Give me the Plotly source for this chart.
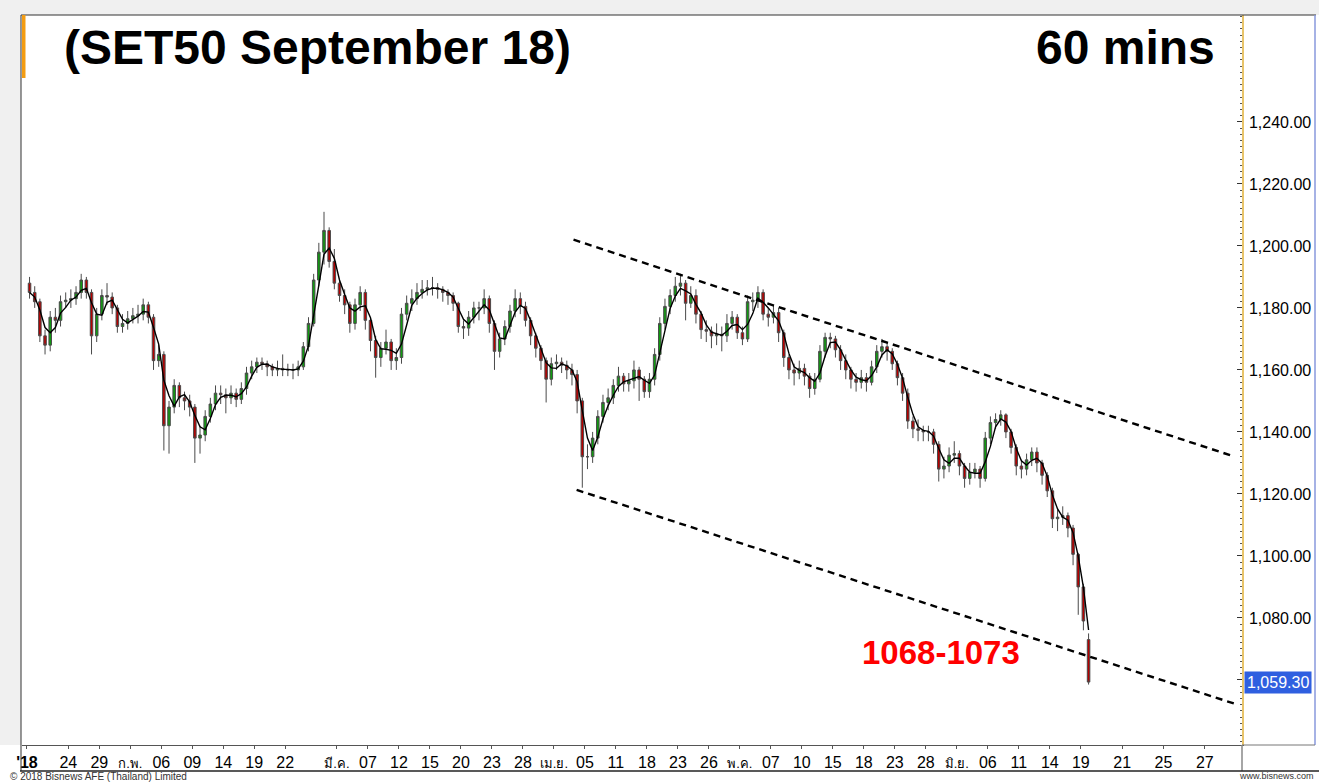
import plotly.graph_objects as go
import pandas as pd

# ---------------- data (2 candles per trading day) ----------------
opens = [1188, 1185, 1182, 1171, 1168, 1177, 1176, 1182, 1182.5, 1183,
         1185, 1189, 1185, 1171, 1178, 1184, 1183.5, 1180, 1174, 1175,
         1176.5, 1177.5, 1178, 1181, 1177, 1163, 1165, 1142, 1148, 1155,
         1151, 1150, 1148, 1138, 1139, 1145, 1149, 1152.5, 1152, 1151,
         1152.5, 1150.5, 1154, 1159, 1161, 1162.5, 1162, 1161, 1160, 1160.5,
         1160, 1160, 1160, 1161, 1167.5, 1175, 1189, 1198, 1205, 1195,
         1188, 1184, 1181, 1175, 1181, 1185, 1176, 1169.5, 1164, 1167,
         1169, 1163, 1164, 1178, 1181.5, 1183, 1185, 1186, 1186.5, 1186.5,
         1186, 1185, 1184, 1181.5, 1174, 1173.5, 1177, 1180, 1180, 1183,
         1175, 1166, 1170, 1174, 1179, 1183, 1180.5, 1176, 1171, 1167,
         1163, 1157, 1162, 1162.5, 1161.5, 1160, 1158.5, 1150, 1132, 1132,
         1138, 1145, 1149.5, 1151, 1155, 1158, 1155.5, 1156.5, 1160, 1157,
         1153, 1157, 1165, 1175, 1180.5, 1184, 1187, 1188, 1181.5, 1184,
         1178, 1173, 1172.5, 1171, 1171.5, 1171, 1175, 1177, 1172, 1170,
         1182, 1182.5, 1185, 1178, 1177, 1178.5, 1172, 1164, 1160, 1159,
         1160.5, 1158, 1154, 1157, 1166, 1170.5, 1170, 1166.5, 1163, 1160,
         1157, 1156, 1157.5, 1156, 1161, 1166, 1167.5, 1166, 1162, 1157.5,
         1152.5, 1143.5, 1141, 1140.5, 1140, 1140, 1136, 1128, 1129, 1132.5,
         1133, 1129, 1125, 1127, 1128, 1125, 1138, 1143, 1144, 1145.5,
         1140, 1135, 1129, 1128, 1131, 1133.5, 1130, 1126, 1121, 1112,
         1112.5, 1113, 1109, 1100.5, 1090, 1073]

highs = [1190, 1187, 1183, 1173, 1179, 1180, 1184, 1185, 1186, 1187,
         1191, 1190, 1186, 1180, 1186, 1188, 1185, 1181, 1178, 1179,
         1180, 1181, 1183, 1182, 1178, 1168, 1166, 1150, 1157, 1156,
         1153, 1152, 1149, 1142, 1147, 1151, 1155, 1155, 1154, 1155,
         1154, 1156, 1161, 1163, 1164, 1164, 1163, 1162, 1163, 1165,
         1162, 1162, 1163, 1169, 1177, 1191, 1201, 1211, 1206, 1199,
         1189, 1186, 1182, 1183, 1187, 1186, 1177, 1171, 1169, 1173,
         1170, 1167, 1180, 1184, 1186, 1188, 1189, 1189, 1190, 1188,
         1187, 1186, 1185, 1182, 1176, 1179, 1182, 1182, 1186, 1184,
         1176, 1172, 1176, 1181, 1186, 1185, 1182, 1177, 1172, 1168,
         1164, 1164, 1165, 1164, 1163, 1162, 1160, 1151, 1136, 1140,
         1147, 1152, 1154, 1157, 1161, 1159, 1159, 1163, 1161, 1158,
         1159, 1167, 1177, 1183, 1186, 1190, 1191, 1189, 1187, 1186,
         1179, 1176, 1174, 1175, 1174, 1178, 1179, 1178, 1174, 1184,
         1185, 1187, 1186, 1180, 1181, 1180, 1173, 1165, 1162, 1163,
         1162, 1159, 1159, 1168, 1172, 1172, 1171, 1168, 1165, 1161,
         1159, 1160, 1159, 1163, 1168, 1170, 1169, 1167, 1163, 1159,
         1154, 1145, 1144, 1142, 1142, 1141, 1137, 1132, 1135, 1137,
         1134, 1130, 1130, 1130, 1129, 1140, 1145, 1146, 1147, 1146,
         1141, 1136, 1131, 1133, 1135, 1135, 1131, 1127, 1122, 1115,
         1116, 1114, 1110, 1101, 1091, 1075]

lows = [1183, 1180, 1169, 1165, 1166, 1172, 1174, 1180, 1180, 1181,
        1183, 1183, 1165, 1169, 1176, 1181, 1178, 1172, 1172, 1173,
        1175, 1175, 1176, 1175, 1160, 1161, 1134, 1133, 1146, 1148,
        1147, 1145, 1130, 1133, 1137, 1143, 1147, 1149, 1146, 1149,
        1148, 1149, 1152, 1157, 1159, 1160, 1158, 1158, 1158, 1158,
        1158, 1157, 1158, 1160, 1166, 1174, 1187, 1194, 1193, 1186,
        1182, 1178, 1172, 1173, 1179, 1173, 1166, 1157.5, 1161, 1165,
        1160, 1160, 1162, 1176, 1179, 1181, 1183, 1184, 1184, 1183,
        1182, 1181, 1179, 1172, 1170, 1171, 1175, 1176, 1178, 1172,
        1160, 1164, 1168, 1172, 1177, 1178, 1174, 1168, 1164, 1160,
        1149.5, 1155, 1160, 1159, 1157, 1155, 1146, 1122, 1128, 1130,
        1136, 1143, 1147, 1149, 1153, 1153, 1153, 1154, 1150, 1151,
        1151, 1155, 1163, 1173, 1178, 1182, 1184, 1176, 1180, 1175,
        1170, 1169, 1167, 1168, 1166, 1169, 1173, 1170, 1168, 1169,
        1179, 1180, 1176, 1174, 1175, 1169, 1161, 1157, 1155, 1157,
        1155, 1151, 1152, 1156, 1164, 1167, 1164, 1160, 1157, 1154,
        1153, 1154, 1153, 1155, 1159, 1164, 1163, 1160, 1155, 1150,
        1141, 1138, 1137, 1137, 1137, 1133, 1124, 1125, 1127, 1130,
        1126, 1122, 1123, 1125, 1122, 1124, 1136, 1141, 1142, 1138,
        1133, 1126, 1125, 1126, 1129, 1127, 1123, 1119, 1109, 1108,
        1110, 1106, 1097, 1081, 1076, 1058.5]

closes = [1185, 1182, 1171, 1168, 1177, 1176, 1182, 1182.5, 1183, 1185,
          1189, 1185, 1171, 1178, 1184, 1183.5, 1180, 1174, 1175, 1176.5,
          1177.5, 1178, 1181, 1177, 1163, 1165, 1142, 1148, 1155, 1151,
          1150, 1148, 1138, 1139, 1145, 1149, 1152.5, 1152, 1151, 1152.5,
          1150.5, 1154, 1159, 1161, 1162.5, 1162, 1161, 1160, 1160.5, 1160,
          1160, 1160, 1161, 1167.5, 1175, 1189, 1198, 1205, 1195, 1188,
          1184, 1181, 1175, 1181, 1185, 1176, 1169.5, 1164, 1167, 1169,
          1163, 1164, 1178, 1181.5, 1183, 1185, 1186, 1186.5, 1186.5, 1186,
          1185, 1184, 1181.5, 1174, 1173.5, 1177, 1180, 1180, 1183, 1175,
          1166, 1170, 1174, 1179, 1183, 1180.5, 1176, 1171, 1167, 1163,
          1157, 1162, 1162.5, 1161.5, 1160, 1158.5, 1150, 1132, 1132, 1138,
          1145, 1149.5, 1151, 1155, 1158, 1155.5, 1156.5, 1160, 1157, 1153,
          1157, 1165, 1175, 1180.5, 1184, 1187, 1188, 1181.5, 1184, 1178,
          1173, 1172.5, 1171, 1171.5, 1171, 1175, 1177, 1172, 1170, 1182,
          1182.5, 1185, 1178, 1177, 1178.5, 1172, 1164, 1160, 1159, 1160.5,
          1158, 1154, 1157, 1166, 1170.5, 1170, 1166.5, 1163, 1160, 1157,
          1156, 1157.5, 1156, 1161, 1166, 1167.5, 1166, 1162, 1157.5, 1152.5,
          1143.5, 1141, 1140.5, 1140, 1140, 1136, 1128, 1129, 1132.5, 1133,
          1129, 1125, 1127, 1128, 1125, 1138, 1143, 1144, 1145.5, 1140,
          1135, 1129, 1128, 1131, 1133.5, 1130, 1126, 1121, 1112, 1112.5,
          1113, 1109, 1100.5, 1090, 1079, 1059.3]

# x-axis: trading-day index of each label
tick_days = [0, 4, 7, 10, 13, 16, 19, 22, 25, 30, 33, 36, 39, 42, 45, 48, 51, 54,
             57, 60, 63, 66, 69, 72, 75, 78, 81, 84, 87, 90, 93, 96, 99, 102,
             106, 110, 114]
tick_labels = ["'18", "24", "29", "ก.พ.", "06", "09", "14", "19", "22", "มี.ค.",
               "07", "12", "15", "20", "23", "28", "เม.ย.", "05", "11", "18",
               "23", "26", "พ.ค.", "07", "10", "15", "18", "23", "28", "มิ.ย.",
               "06", "11", "14", "19", "21", "25", "27"]

y_ticks = [1060, 1080, 1100, 1120, 1140, 1160, 1180, 1200, 1220, 1240]

# channel lines (day index, price)
upper_x = [52.9, 116.9]
upper_y = [1202.0, 1132.0]
lower_x = [53.2, 116.9]
lower_y = [1121.3, 1052.3]

last_price = 1059.3
target_text = "1068-1073"
target_pos = (88.5, 1068.7)

# ---------------- figure ----------------
n = len(closes)
xs = [i // 2 + 0.25 + 0.5 * (i % 2) for i in range(n)]
ma = pd.Series(closes).rolling(3, min_periods=1).mean()


def fmt_tick(t):
    if t.startswith("'"):
        return "<b>" + t + "</b>"
    if not t.isdigit():
        return '<span style="font-size:13px">' + t + "</span>"
    return t


ticktext = [fmt_tick(t) for t in tick_labels]

W, H = 1319, 782
L, R, T, B = 22, 1242, 15, 745


def px(x):
    return (x - L) / (R - L)


def py(y):
    return (B - y) / (B - T)


fig = go.Figure()
fig.add_trace(go.Candlestick(
    x=xs, open=opens, high=highs, low=lows, close=closes,
    increasing=dict(fillcolor="#109a10", line=dict(color="#4a4a4a", width=1)),
    decreasing=dict(fillcolor="#b40000", line=dict(color="#4a4a4a", width=1)),
    whiskerwidth=0, showlegend=False, hoverinfo="skip",
))
fig.add_trace(go.Scatter(x=xs, y=ma, mode="lines",
                         line=dict(color="black", width=1.4),
                         showlegend=False, hoverinfo="skip"))
for lx, ly in ((upper_x, upper_y), (lower_x, lower_y)):
    fig.add_trace(go.Scatter(x=lx, y=ly, mode="lines",
                             line=dict(color="black", width=2.4, dash="7px,5px"),
                             showlegend=False, hoverinfo="skip"))

shapes = [
    # grey outer frame
    dict(type="rect", xref="paper", yref="paper", x0=px(0), x1=px(W), y0=py(T), y1=py(0),
         fillcolor="#f0f0f0", line=dict(width=0), layer="above"),
    dict(type="rect", xref="paper", yref="paper", x0=px(0), x1=px(21), y0=py(B), y1=py(T),
         fillcolor="#f0f0f0", line=dict(width=0), layer="above"),
    # chart box borders
    dict(type="line", xref="paper", yref="paper", x0=px(21), x1=px(1316), y0=py(T), y1=py(T),
         line=dict(color="#333333", width=1)),
    dict(type="line", xref="paper", yref="paper", x0=px(21), x1=px(21), y0=py(771), y1=py(T),
         line=dict(color="#333333", width=1)),
    dict(type="line", xref="paper", yref="paper", x0=px(1315), x1=px(1315), y0=py(B), y1=py(T),
         line=dict(color="#8899dd", width=1.5)),
    dict(type="line", xref="paper", yref="paper", x0=px(R), x1=px(1315), y0=py(B), y1=py(B),
         line=dict(color="#777777", width=1)),
    dict(type="line", xref="paper", yref="paper", x0=px(R), x1=px(R), y0=py(771), y1=py(B),
         line=dict(color="#888888", width=1.5)),
    dict(type="line", xref="paper", yref="paper", x0=px(20), x1=px(W), y0=py(771), y1=py(771),
         line=dict(color="#222222", width=1.5)),
    # orange marker by the title
    dict(type="rect", xref="paper", yref="paper", x0=px(22), x1=px(25.5), y0=py(78), y1=py(T),
         fillcolor="#f39c12", line=dict(width=0)),
]

annotations = [
    dict(text="<b>(SET50 September 18)</b>", xref="paper", yref="paper",
         x=px(62), y=py(47), xanchor="left", yanchor="middle", showarrow=False,
         font=dict(family="Liberation Sans, Arial", size=48, color="black")),
    dict(text="<b>60 mins</b>", xref="paper", yref="paper",
         x=px(1217), y=py(47), xanchor="right", yanchor="middle", showarrow=False,
         font=dict(family="Liberation Sans, Arial", size=48, color="black")),
    dict(text="<b>" + target_text + "</b>", x=target_pos[0], y=target_pos[1],
         xref="x", yref="y", showarrow=False, xanchor="center", yanchor="middle",
         font=dict(family="Liberation Sans, Arial", size=33, color="#ff0000")),
    dict(text=f"{last_price:,.2f}", xref="paper", yref="y", x=px(1244), y=last_price,
         xanchor="left", yanchor="middle", showarrow=False, bgcolor="#2f5fe0",
         borderpad=2, font=dict(family="Liberation Sans, Arial", size=16, color="white")),
    dict(text="© 2018 Bisnews AFE (Thailand) Limited", xref="paper", yref="paper",
         x=px(8), y=py(776), xanchor="left", yanchor="middle", showarrow=False,
         font=dict(family="Liberation Sans, Arial", size=10, color="#333333")),
    dict(text="www.bisnews.com", xref="paper", yref="paper",
         x=px(1316), y=py(776), xanchor="right", yanchor="middle", showarrow=False,
         font=dict(family="Liberation Sans, Arial", size=9, color="#333333")),
]

fig.update_layout(
    width=W, height=H,
    margin=dict(l=L, r=W - R, t=T, b=H - B, pad=0, autoexpand=False),
    paper_bgcolor="white", plot_bgcolor="white",
    shapes=shapes, annotations=annotations,
    showlegend=False,
    xaxis=dict(
        range=[-0.48, 117.6], rangeslider=dict(visible=False), automargin=False,
        tickmode="array", tickvals=tick_days, ticktext=ticktext,
        showgrid=False, zeroline=False,
        showline=True, linecolor="#555555", linewidth=1,
        ticks="outside", ticklen=3, tickcolor="#555555",
        tickfont=dict(family="Liberation Sans, Arial", size=16, color="black"),
        tickangle=0,
    ),
    yaxis=dict(
        side="right", range=[1039.0, 1274.5], automargin=False,
        tickmode="array", tickvals=y_ticks, tickformat=",.2f",
        showgrid=False, zeroline=False,
        showline=True, linecolor="#e8c46a", linewidth=1.5,
        ticks="inside", ticklen=5, tickcolor="#333333",
        minor=dict(dtick=2, ticks="inside", ticklen=2, tickcolor="#555555"),
        ticklabelstandoff=2,
        tickfont=dict(family="Liberation Sans, Arial", size=16, color="black"),
    ),
)

# remove the browser's default 8px page margin so the 1319x782 figure fills the window
fig.write_html("out.html",
               config={"displayModeBar": False},
               post_script="document.body.style.margin='0';document.body.style.overflow='hidden';")
